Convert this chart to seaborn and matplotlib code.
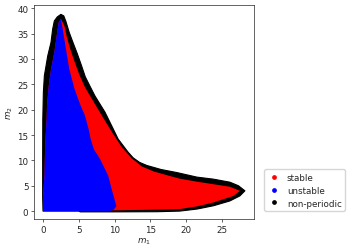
import numpy as np
import pandas as pd
import seaborn as sns
import matplotlib
matplotlib.use("Agg")
import matplotlib.pyplot as plt
from matplotlib.lines import Line2D

# Region boundaries (m1, m2)
outer_m1 = [0.0, -0.05, -0.05, -0.03, 0.05, 0.19, 0.66, 1.12, 1.35, 1.58, 2.0, 2.5, 2.9, 3.2,
            3.67, 4.2, 4.8, 5.4, 5.9, 6.5, 7.26, 8.66, 9.6, 10.5, 11.9, 12.6, 13.5, 14.5,
            15.5, 16.5, 18.7, 21.5, 23.8, 26.1, 27.3, 28.2, 27.5, 26.1, 23.8, 21.5, 19.1,
            16.0, 10.0, 5.2, 5.0]
outer_m2 = [0.0, 2.8, 10.0, 18.0, 23.4, 26.7, 30.6, 33.3, 35.9, 37.5, 38.3, 38.8, 38.5, 37.4,
            35.2, 33.2, 31.0, 28.6, 26.5, 24.8, 22.7, 19.5, 16.8, 14.2, 11.6, 10.5, 9.6, 9.0,
            8.6, 8.2, 7.6, 6.7, 6.3, 5.7, 5.0, 4.0, 3.0, 2.0, 1.05, 0.4, 0.0,
            -0.12, -0.15, -0.15, 0.0]

stable_m1 = [0.0, 0.0, 0.2, 0.3, 0.5, 0.56, 0.8, 1.12, 1.58, 1.91, 2.19, 2.5, 3.0, 3.3, 3.8,
             4.4, 5.1, 5.87, 7.26, 8.66, 9.8, 11.0, 12.4, 13.8, 15.5, 17.5, 19.1, 21.5, 23.8,
             26.1, 27.5, 26.6, 23.8, 21.5, 19.1, 16.8, 12.0, 9.8, 5.6, 5.0]
stable_m2 = [0.0, 2.8, 7.0, 13.0, 18.1, 20.8, 24.7, 28.0, 31.3, 34.6, 37.2, 37.9, 36.5, 34.5, 32.0,
             29.5, 26.8, 24.4, 21.1, 17.8, 15.2, 12.6, 10.4, 8.8, 7.8, 7.0, 6.4, 5.8, 5.3,
             4.8, 4.0, 3.0, 1.7, 0.93, 0.4, 0.3, 0.2, 0.15, 0.05, 0.0]

unstable_m1 = [0.0, 0.0, 0.2, 0.3, 0.5, 0.56, 0.8, 1.12, 1.58, 1.91, 2.19, 2.5, 2.75, 3.2, 3.67,
               4.4, 5.2, 5.87, 6.4, 6.66, 7.1, 7.96, 9.1, 9.6, 10.05, 10.25, 9.9, 9.3]
unstable_m2 = [0.0, 2.8, 7.0, 13.0, 18.1, 20.8, 24.7, 28.0, 31.3, 34.6, 37.2, 37.9, 35.9, 32.0, 28.0,
               24.1, 21.0, 18.8, 16.0, 14.2, 12.2, 10.3, 7.0, 4.3, 2.0, 1.0, 0.3, 0.0]

labels = ["stable", "unstable", "non-periodic"]
colors = ["red", "blue", "black"]

fs = 6.3
sns.set_theme(style="ticks", rc={"font.size": fs, "axes.labelsize": fs,
                                 "xtick.labelsize": fs, "ytick.labelsize": fs,
                                 "legend.fontsize": fs, "axes.linewidth": 0.5,
                                 "xtick.major.width": 0.5, "ytick.major.width": 0.5,
                                 "xtick.major.size": 2, "ytick.major.size": 2,
                                 "xtick.major.pad": 2, "ytick.major.pad": 2})
plt.rcParams["font.family"] = ["DejaVu Sans"]

fig = plt.figure(figsize=(3.54, 2.53), dpi=100)
ax = fig.add_axes([0.096, 0.130, 0.6215, 0.846])

ax.fill(outer_m1, outer_m2, facecolor="black", edgecolor="black", lw=0.8, joinstyle="round")
ax.fill(stable_m1, stable_m2, color="red", lw=0)
ax.fill(unstable_m1, unstable_m2, color="blue", lw=0)

ax.set_xlim(-1.26, 29.47)
ax.set_ylim(-1.58, 40.63)
ax.set_xticks([0, 5, 10, 15, 20, 25])
ax.set_yticks([0, 5, 10, 15, 20, 25, 30, 35, 40])
ax.set_xlabel("$m_1$", labelpad=1.5)
ax.set_ylabel("$m_2$", labelpad=1.5)

handles = [Line2D([], [], ls="", marker="o", ms=2.4, color=c) for c in colors]
fig.legend(handles, labels, loc="lower left", bbox_to_anchor=(0.746, 0.162),
           borderaxespad=0, frameon=True, handlelength=1.4, handletextpad=0.8,
           borderpad=0.4, labelspacing=0.45)

fig.savefig("out.png", dpi=100)
